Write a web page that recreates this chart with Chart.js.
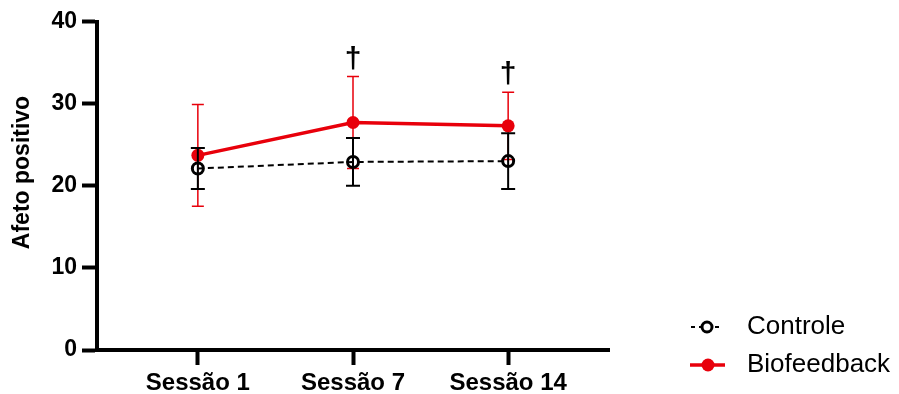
<!DOCTYPE html>
<html>
<head>
<meta charset="utf-8">
<script src="https://cdn.jsdelivr.net/npm/chart.js@4.4.1/dist/chart.umd.min.js"></script>
<style>
  html, body { margin: 0; padding: 0; background: #ffffff; }
  #wrap { width: 899px; height: 394px; position: relative; }
</style>
</head>
<body>
<div id="wrap"><canvas id="chart" width="899" height="394"></canvas></div>
<script>
// Sessions and group values (mean ± SD)
const sessions = ['Sessão 1', 'Sessão 7', 'Sessão 14'];
const controleMean = [22.1, 22.9, 23.0];
const controleSD = [2.5, 2.9, 3.4];
const bioMean = [23.7, 27.7, 27.3];
const bioSD = [6.2, 5.6, 4.1];
// sessions flagged with a dagger
const significant = [false, true, true];
const yTicks = [0, 10, 20, 30, 40];
const yTitle = 'Afeto positivo';
const seriesNames = ['Controle', 'Biofeedback'];

const RED = '#e8000b';
const FONT = "'Liberation Sans', Arial, Helvetica, sans-serif";

const toPoints = (means) => means.map((v, i) => ({ x: i + 1, y: v }));

// Mean ± SD whiskers, drawn just before each dataset so layering follows dataset order
const errorBars = {
  id: 'errorBars',
  beforeDatasetDraw(chart, args) {
    const ds = chart.data.datasets[args.index];
    if (!ds.sd) return;
    const y = chart.scales.y;
    const ctx = chart.ctx;
    ctx.save();
    ctx.strokeStyle = ds.errColor;
    ctx.lineWidth = ds.errWidth;
    ctx.lineCap = 'butt';
    args.meta.data.forEach((pt, i) => {
      const m = ds.data[i].y, s = ds.sd[i];
      const top = y.getPixelForValue(m + s);
      const bot = y.getPixelForValue(m - s);
      ctx.beginPath();
      ctx.moveTo(pt.x, top); ctx.lineTo(pt.x, bot);
      ctx.moveTo(pt.x - ds.capHalf, top); ctx.lineTo(pt.x + ds.capHalf, top);
      ctx.moveTo(pt.x - ds.capHalf, bot); ctx.lineTo(pt.x + ds.capHalf, bot);
      ctx.stroke();
    });
    ctx.restore();
  }
};

// Dagger marks above the Biofeedback whiskers
const daggers = {
  id: 'daggers',
  afterDatasetsDraw(chart) {
    const ctx = chart.ctx;
    const y = chart.scales.y, x = chart.scales.x;
    ctx.save();
    ctx.fillStyle = '#000';
    ctx.font = 'bold 30px ' + FONT;
    ctx.textAlign = 'center';
    ctx.textBaseline = 'middle';
    significant.forEach((flag, i) => {
      if (!flag) return;
      const px = x.getPixelForValue(i + 1);
      const py = y.getPixelForValue(bioMean[i] + bioSD[i]) - 17;
      ctx.fillText('\u2020', px, py);
    });
    ctx.restore();
  }
};

// Rotated y-axis title
const yAxisTitle = {
  id: 'yAxisTitle',
  afterDraw(chart) {
    const ctx = chart.ctx;
    ctx.save();
    ctx.translate(23, 172.5);
    ctx.rotate(-Math.PI / 2);
    ctx.fillStyle = '#000';
    ctx.font = 'bold 23px ' + FONT;
    ctx.textAlign = 'center';
    ctx.textBaseline = 'middle';
    ctx.fillText(yTitle, 0, 0);
    ctx.restore();
  }
};

// Legend with line + marker samples
const sideLegend = {
  id: 'sideLegend',
  afterDraw(chart) {
    const ctx = chart.ctx;
    const rows = [
      { ds: chart.data.datasets[0], y: 327 },
      { ds: chart.data.datasets[1], y: 365 }
    ];
    ctx.save();
    // Controle sample
    let r = rows[0];
    ctx.strokeStyle = '#000';
    ctx.lineWidth = 2;
    ctx.setLineDash([4, 4]);
    ctx.beginPath();
    ctx.moveTo(691, r.y); ctx.lineTo(723, r.y);
    ctx.stroke();
    ctx.setLineDash([]);
    ctx.fillStyle = '#fff';
    ctx.lineWidth = 3;
    ctx.beginPath();
    ctx.arc(707, r.y, 5, 0, Math.PI * 2);
    ctx.fill();
    ctx.stroke();
    // Biofeedback sample
    r = rows[1];
    ctx.strokeStyle = RED;
    ctx.lineWidth = 3.5;
    ctx.beginPath();
    ctx.moveTo(690, r.y); ctx.lineTo(725, r.y);
    ctx.stroke();
    ctx.fillStyle = RED;
    ctx.beginPath();
    ctx.arc(708, r.y, 6.5, 0, Math.PI * 2);
    ctx.fill();
    // labels
    ctx.fillStyle = '#000';
    ctx.font = '26px ' + FONT;
    ctx.textAlign = 'left';
    ctx.textBaseline = 'middle';
    rows.forEach(row => ctx.fillText(row.ds.label, 747, row.y));
    ctx.restore();
  }
};

new Chart(document.getElementById('chart'), {
  type: 'line',
  data: {
    datasets: [
      {
        label: seriesNames[0],
        data: toPoints(controleMean),
        sd: controleSD,
        errColor: '#000',
        errWidth: 2,
        capHalf: 7,
        borderColor: '#000',
        borderWidth: 2,
        borderDash: [6, 4],
        pointRadius: 5.5,
        pointBorderWidth: 3,
        pointBorderColor: '#000',
        pointBackgroundColor: 'rgba(0,0,0,0)',
        tension: 0,
        fill: false
      },
      {
        label: seriesNames[1],
        data: toPoints(bioMean),
        sd: bioSD,
        errColor: RED,
        errWidth: 1.5,
        capHalf: 6,
        borderColor: RED,
        borderWidth: 3.5,
        pointRadius: 6.5,
        pointBorderWidth: 0,
        pointBackgroundColor: RED,
        tension: 0,
        fill: false
      }
    ]
  },
  options: {
    responsive: false,
    animation: false,
    devicePixelRatio: 1,
    layout: { padding: { top: 21.5, right: 290, bottom: 0, left: 0 } },
    plugins: {
      legend: { display: false },
      tooltip: { enabled: false }
    },
    scales: {
      x: {
        type: 'linear',
        min: 0.35,
        max: 3.65,
        afterBuildTicks: (scale) => { scale.ticks = sessions.map((_, i) => ({ value: i + 1 })); },
        afterFit: (scale) => { scale.height = 44; },
        ticks: {
          callback: (v) => sessions[v - 1],
          color: '#000',
          font: { family: FONT, size: 24, weight: 'bold' },
          padding: 4,
          maxRotation: 0,
          autoSkip: false
        },
        grid: { drawOnChartArea: false, tickLength: 15, tickWidth: 4, tickColor: '#000', color: '#000' },
        border: { display: true, color: '#000', width: 4 }
      },
      y: {
        min: 0,
        max: 40,
        afterBuildTicks: (scale) => { scale.ticks = yTicks.map(v => ({ value: v })); },
        afterFit: (scale) => { scale.width = 97; },
        ticks: {
          color: '#000',
          font: { family: FONT, size: 23, weight: 'bold' },
          padding: 5
        },
        grid: { drawOnChartArea: false, tickLength: 15, tickWidth: 4, tickColor: '#000', color: '#000' },
        border: { display: true, color: '#000', width: 4 }
      }
    }
  },
  plugins: [errorBars, daggers, yAxisTitle, sideLegend]
});
</script>
</body>
</html>
